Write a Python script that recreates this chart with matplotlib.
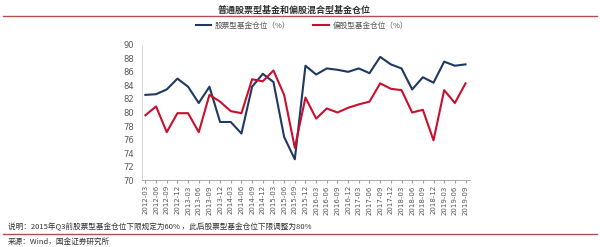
import matplotlib
matplotlib.use("Agg")
import matplotlib.pyplot as plt
import numpy as np

plt.rcParams['font.family'] = ['Noto Sans CJK SC', 'DejaVu Sans']

# quarters 2012-03 .. 2019-09
quarters = ['2012-03', '2012-06', '2012-09', '2012-12',
            '2013-03', '2013-06', '2013-09', '2013-12',
            '2014-03', '2014-06', '2014-09', '2014-12',
            '2015-03', '2015-06', '2015-09', '2015-12',
            '2016-03', '2016-06', '2016-09', '2016-12',
            '2017-03', '2017-06', '2017-09', '2017-12',
            '2018-03', '2018-06', '2018-09', '2018-12',
            '2019-03', '2019-06', '2019-09']

stock_fund = [82.6, 82.7, 83.4, 85.0, 83.8, 81.4, 83.8, 78.6, 78.6, 76.9,
              83.8, 85.7, 84.5, 76.4, 73.1, 86.9, 85.6, 86.5, 86.3, 86.0,
              86.5, 85.8, 88.2, 87.1, 86.5, 83.4, 85.2, 84.4, 87.5, 86.9, 87.1]

mixed_fund = [79.6, 80.9, 77.1, 79.9, 79.9, 77.1, 82.6, 81.6, 80.2, 79.9,
              84.9, 84.6, 86.2, 82.6, 74.8, 82.2, 79.1, 80.6, 80.0, 80.7,
              81.2, 81.6, 84.3, 83.5, 83.3, 80.0, 80.4, 75.9, 83.3, 81.4, 84.3]

title = '普通股票型基金和偏股混合型基金仓位'
label_stock = '股票型基金仓位（%）'
label_mixed = '偏股型基金仓位（%）'
note = '说明：2015年Q3前股票型基金仓位下限规定为60% ，此后股票型基金仓位下限调整为80%'
source = '来源：Wind，国金证券研究所'

blue = '#1f3864'
red = '#c8102e'
gray = '#595959'

fig = plt.figure(figsize=(6, 2.47), dpi=100)
ax = fig.add_axes([0.237, 0.270, 0.546, 0.549])

x = np.arange(len(quarters))
ax.plot(x, stock_fund, color=blue, lw=1.5, label=label_stock)
ax.plot(x, mixed_fund, color=red, lw=1.5, label=label_mixed)

ax.set_ylim(70, 90)
ax.set_yticks(np.arange(70, 91, 2))
ax.set_xlim(-0.3, 30.4)
ax.set_xticks(x)
ax.set_xticklabels(quarters, rotation=90, fontsize=5.0, color=gray,
                   family='DejaVu Sans')
ax.tick_params(axis='x', length=2, color='#a0a0a0', pad=1.5)
ax.tick_params(axis='y', length=0, labelsize=6, labelcolor=gray, pad=6)
for lab in ax.get_yticklabels():
    lab.set_family('DejaVu Sans')
for s in ['top', 'right']:
    ax.spines[s].set_visible(False)
ax.spines['left'].set_color('#d0d0d0')
ax.spines['left'].set_linewidth(0.6)
ax.spines['bottom'].set_color('#a0a0a0')
ax.spines['bottom'].set_linewidth(0.6)

fig.legend(loc='center', bbox_to_anchor=(0.503, 1 - 26 / 247), ncol=2,
           frameon=False, fontsize=5.5, handlelength=2.0, columnspacing=3.0,
           handletextpad=0.5, labelcolor=gray)

fig.text(0.49, 1 - 10 / 247, title, ha='center', va='center', fontsize=6.5,
         fontweight='bold', color='#333333')
fig.add_artist(plt.Line2D([0.005, 0.995], [1 - 16 / 247] * 2,
                          color='#b05050', lw=1.0))
fig.text(0.013, 1 - 227 / 247, note, ha='left', va='center', fontsize=5.5,
         color='#333333')
fig.add_artist(plt.Line2D([0.005, 0.995], [1 - 233.5 / 247] * 2,
                          color='#b05050', lw=1.0))
fig.text(0.013, 1 - 242 / 247, source, ha='left', va='center', fontsize=5.5,
         color='#333333', style='italic')

fig.savefig('out.png', dpi=100)
